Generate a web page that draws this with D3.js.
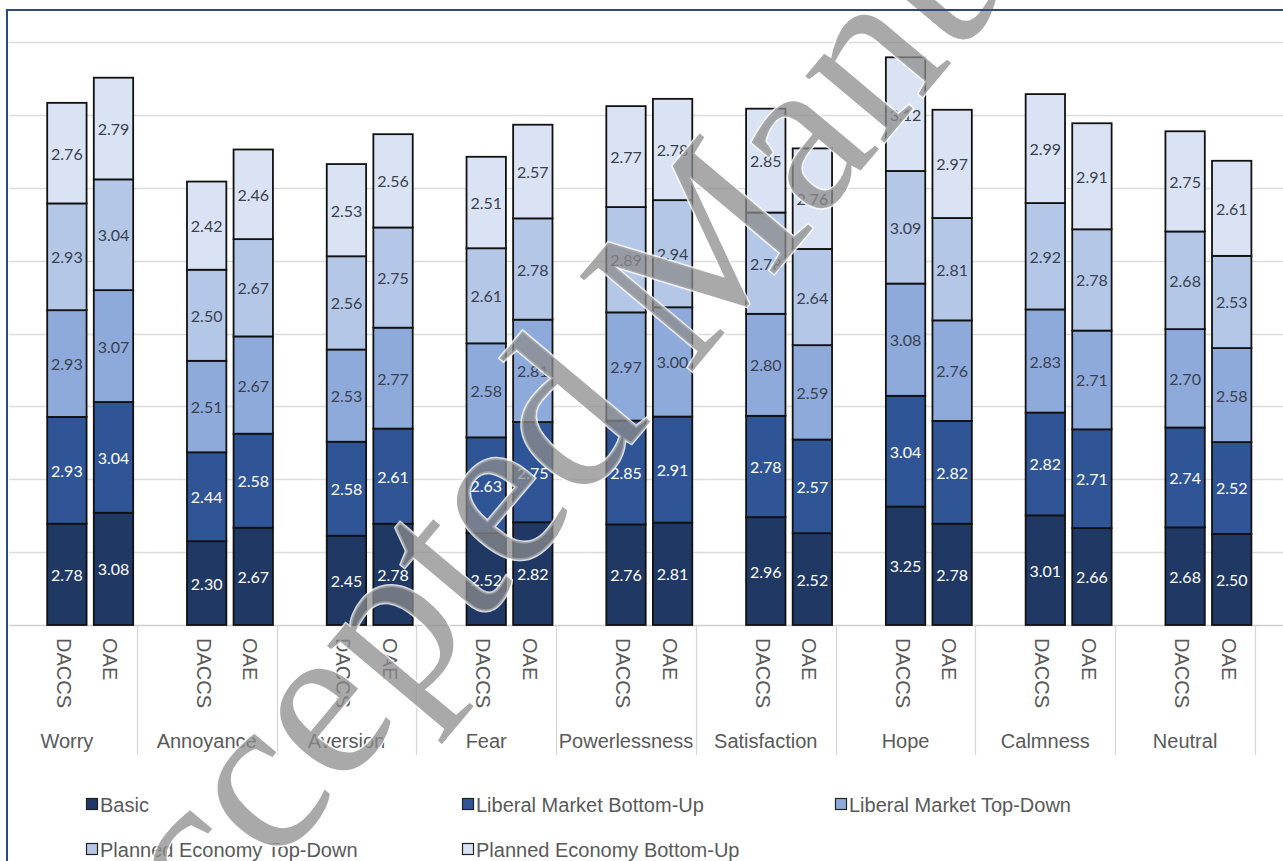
<!DOCTYPE html>
<html>
<head>
<meta charset="utf-8">
<script src="https://cdn.jsdelivr.net/npm/d3@7"></script>
<style>
  html, body { margin: 0; padding: 0; background: #ffffff; }
  svg { display: block; }
</style>
</head>
<body>
<svg id="chart" width="1283" height="861"></svg>
<script>
// ---- data ----
const categories = ["Worry", "Annoyance", "Aversion", "Fear", "Powerlessness", "Satisfaction", "Hope", "Calmness", "Neutral"];
const techs = ["DACCS", "OAE"];
const seriesNames = ["Basic", "Liberal Market Bottom-Up", "Liberal Market Top-Down", "Planned Economy Top-Down", "Planned Economy Bottom-Up"];
// values ordered: Worry DACCS, Worry OAE, Annoyance DACCS, Annoyance OAE, ...
const basic = [2.78, 3.08, 2.30, 2.67, 2.45, 2.78, 2.52, 2.82, 2.76, 2.81, 2.96, 2.52, 3.25, 2.78, 3.01, 2.66, 2.68, 2.50];
const liberalBottomUp = [2.93, 3.04, 2.44, 2.58, 2.58, 2.61, 2.63, 2.75, 2.85, 2.91, 2.78, 2.57, 3.04, 2.82, 2.82, 2.71, 2.74, 2.52];
const liberalTopDown = [2.93, 3.07, 2.51, 2.67, 2.53, 2.77, 2.58, 2.81, 2.97, 3.00, 2.80, 2.59, 3.08, 2.76, 2.83, 2.71, 2.70, 2.58];
const plannedTopDown = [2.93, 3.04, 2.50, 2.67, 2.56, 2.75, 2.61, 2.78, 2.89, 2.94, 2.78, 2.64, 3.09, 2.81, 2.92, 2.78, 2.68, 2.53];
const plannedBottomUp = [2.76, 2.79, 2.42, 2.46, 2.53, 2.56, 2.51, 2.57, 2.77, 2.78, 2.85, 2.76, 3.12, 2.97, 2.99, 2.91, 2.75, 2.61];
const yTicks = [0, 2, 4, 6, 8, 10, 12, 14, 16];

const seriesValues = [basic, liberalBottomUp, liberalTopDown, plannedTopDown, plannedBottomUp];
const colors = ["#203864", "#2f5597", "#8eaadb", "#b4c7e7", "#dae3f3"];
const labelColors = ["#ffffff", "#ffffff", "#3a4150", "#3a4150", "#3a4150"];

// rows for stacking
const rows = [];
categories.forEach((c, ci) => techs.forEach((t, ti) => {
  const r = { cat: c, tech: t };
  seriesNames.forEach((s, si) => { r[s] = seriesValues[si][ci * 2 + ti]; });
  rows.push(r);
}));
const stacked = d3.stack().keys(seriesNames)(rows);

const svg = d3.select("#chart");
const W = 1283, H = 861;

// scales
const x0 = d3.scaleBand().domain(categories).range([-3, 1255]).padding(0);
const slots = ["", "DACCS", "OAE"];
const x1 = d3.scaleBand().domain(slots).range([0, x0.bandwidth()]).paddingInner(0.155).paddingOuter(0.0775);
const y = d3.scaleLinear().domain([0, 16]).range([625, 42]);
const color = d3.scaleOrdinal().domain(seriesNames).range(colors);

// background
svg.append("rect").attr("x", 0).attr("y", 0).attr("width", W).attr("height", H).attr("fill", "#ffffff");

// gridlines
svg.append("g").selectAll("line").data(yTicks).join("line")
  .attr("x1", 9).attr("x2", W)
  .attr("y1", d => Math.round(y(d)) + 0.5).attr("y2", d => Math.round(y(d)) + 0.5)
  .attr("stroke", d => d === 0 ? "#cfcfcf" : "#dcdcdc").attr("stroke-width", 1.5);

// category separators
const seps = categories.map(c => x0(c) + x0.bandwidth()).concat([x0(categories[0])]);
svg.append("g").selectAll("line").data(seps).join("line")
  .attr("x1", d => Math.round(d) + 0.5).attr("x2", d => Math.round(d) + 0.5)
  .attr("y1", y(0)).attr("y2", 755)
  .attr("stroke", "#d6d6d6").attr("stroke-width", 1.2);

// bars
const layers = svg.append("g").selectAll("g").data(stacked).join("g")
  .attr("fill", d => color(d.key));
layers.selectAll("rect").data(d => d).join("rect")
  .attr("x", d => x0(d.data.cat) + x1(d.data.tech))
  .attr("width", x1.bandwidth())
  .attr("y", d => y(d[1]))
  .attr("height", d => y(d[0]) - y(d[1]))
  .attr("stroke", "#111111").attr("stroke-width", 1.8);

// data labels
const lab = svg.append("g").attr("font-family", "Lato, 'Open Sans', sans-serif").attr("font-size", 16);
stacked.forEach((layer, si) => {
  lab.append("g").selectAll("text").data(layer).join("text")
    .attr("x", d => x0(d.data.cat) + x1(d.data.tech) + x1.bandwidth() / 2)
    .attr("y", d => (y(d[0]) + y(d[1])) / 2)
    .attr("text-anchor", "middle").attr("dominant-baseline", "central")
    .attr("fill", labelColors[si])
    .text(d => d3.format(".2f")(d[1] - d[0]));
});

// x axis: sub labels (rotated)
const axisFont = "'Liberation Sans', Arial, sans-serif";
const sub = svg.append("g").attr("font-family", axisFont).attr("font-size", 20).attr("fill", "#595959");
categories.forEach(c => {
  techs.forEach(t => {
    const cx = x0(c) + x1(t) + x1.bandwidth() / 2 - 3;
    sub.append("text")
      .attr("transform", `translate(${cx},638) rotate(90)`)
      .attr("text-anchor", "start").attr("dominant-baseline", "central")
      .text(t);
  });
});
// category labels
svg.append("g").attr("font-family", axisFont).attr("font-size", 20).attr("fill", "#595959")
  .selectAll("text").data(categories).join("text")
  .attr("x", d => x0(d) + x0.bandwidth() / 2)
  .attr("y", 748)
  .attr("text-anchor", "middle")
  .text(d => d);

// legend
const legendPos = [[86, 812], [462, 812], [835, 812], [86, 857], [462, 857]];
const leg = svg.append("g").attr("font-family", axisFont).attr("font-size", 20).attr("fill", "#595959");
seriesNames.forEach((s, i) => {
  const [lx, ly] = legendPos[i];
  leg.append("rect").attr("x", lx + 0.5).attr("y", ly - 13.5).attr("width", 11).attr("height", 11)
    .attr("fill", color(s)).attr("stroke", "#222222").attr("stroke-width", 1.2);
  leg.append("text").attr("x", lx + 14).attr("y", ly).text(s);
});

// watermark
svg.append("text")
  .attr("transform", "translate(106,1070) rotate(-50)")
  .attr("font-family", "'Liberation Serif', 'DejaVu Serif', serif")
  .attr("font-size", 225)
  .attr("fill", "#8c8c8c").attr("fill-opacity", 0.75)
  .attr("stroke", "#ffffff").attr("stroke-width", 3).attr("stroke-opacity", 0.8)
  .attr("paint-order", "stroke")
  .style("pointer-events", "none")
  .text("Accepted Manuscript");

// frame
svg.append("rect").attr("x", 7).attr("y", 10).attr("width", 1300).attr("height", 900)
  .attr("fill", "none").attr("stroke", "#2e4a7d").attr("stroke-width", 2);
</script>
</body>
</html>
